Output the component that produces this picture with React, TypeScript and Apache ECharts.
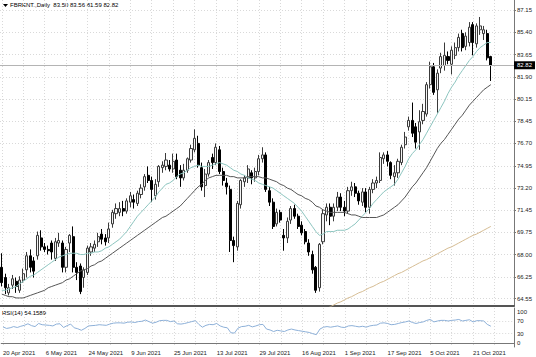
import React, { useEffect, useRef } from 'react';
import * as echarts from 'echarts';

const symbolName = 'FBRENT.';
const periodName = 'Daily';
const rsiName = 'RSI(14)';

const monthNames = ['Jan', 'Feb', 'Mar', 'Apr', 'May', 'Jun', 'Jul', 'Aug', 'Sep', 'Oct', 'Nov', 'Dec'];
const firstDay: [number, number, number] = [2021, 4, 20];
const slotCount = 144; // 138 bars + empty chart shift on the right

function tradingDays(start: [number, number, number], n: number): string[] {
  const out: string[] = [];
  const d = new Date(Date.UTC(start[0], start[1] - 1, start[2]));
  while (out.length < n) {
    const wd = d.getUTCDay();
    if (wd !== 0 && wd !== 6) out.push(`${d.getUTCDate()} ${monthNames[d.getUTCMonth()]} ${d.getUTCFullYear()}`);
    d.setUTCDate(d.getUTCDate() + 1);
  }
  return out;
}
const categories = tradingDays(firstDay, slotCount);

const opens = [
  67.0, 66.2, 65.0, 65.6, 65.9, 65.2, 66.0, 66.8, 67.9, 67.5,
  67.9, 69.3, 68.6, 68.4, 68.9, 67.7, 68.9, 68.9, 67.0, 68.9,
  69.4, 67.0, 67.1, 66.2, 66.6, 68.2, 68.5, 69.0, 69.6, 69.3,
  69.3, 70.4, 71.2, 71.3, 71.6, 71.4, 72.1, 72.3, 72.0, 72.7,
  73.3, 74.2, 73.8, 72.6, 73.7, 74.8, 74.9, 75.0, 74.7, 75.4,
  74.6, 74.0, 74.6, 75.4, 76.2, 76.7, 74.8, 73.4, 74.3, 75.6,
  75.2, 76.2, 74.5, 73.6, 73.1, 69.1, 68.6, 71.9, 73.7, 74.0,
  74.4, 74.0, 74.5, 75.5, 75.8, 73.0, 72.1, 70.4, 71.3, 69.5,
  69.3, 70.7, 71.6, 71.0, 70.3, 69.8, 68.9, 68.0, 67.0, 65.4,
  69.0, 71.1, 71.7, 71.0, 71.7, 72.5, 71.7, 71.4, 73.0, 73.3,
  72.8, 72.1, 72.9, 71.7, 73.1, 73.6, 73.8, 75.5, 75.8, 75.2,
  74.1, 74.4, 75.2, 76.6, 78.0, 78.5, 78.0, 77.6, 78.5, 79.0,
  81.3, 82.7, 80.9, 82.6, 82.8, 83.5, 82.9, 83.6, 84.2, 85.3,
  84.3, 84.6, 86.0, 84.5, 85.6, 85.3, 85.3, 83.50,
];
const highs = [
  68.1, 66.5, 65.7, 66.4, 66.2, 66.3, 66.9, 68.2, 68.4, 67.8,
  69.8, 69.9, 68.9, 68.7, 69.1, 69.3, 69.7, 69.1, 68.6, 69.6,
  70.2, 67.4, 67.3, 67.0, 68.7, 68.9, 69.1, 69.7, 70.0, 69.6,
  70.5, 71.5, 72.0, 72.1, 72.2, 72.4, 72.9, 72.7, 73.0, 73.5,
  74.3, 74.9, 74.1, 73.9, 75.0, 75.3, 75.95, 75.4, 75.9, 75.9,
  75.0, 75.1, 75.6, 76.6, 77.8, 77.3, 75.2, 74.7, 75.4, 75.9,
  76.7, 76.5, 74.8, 74.0, 73.4, 69.4, 72.2, 73.9, 74.2, 75.0,
  74.6, 74.8, 75.8, 76.4, 76.0, 73.3, 72.4, 71.6, 71.5, 70.0,
  70.9, 71.8, 71.9, 71.2, 70.6, 70.0, 69.2, 68.3, 67.1, 68.9,
  71.5, 72.0, 72.0, 72.0, 72.9, 72.8, 72.2, 73.3, 73.7, 73.6,
  73.0, 73.2, 73.2, 73.3, 73.9, 74.1, 76.0, 76.0, 76.1, 75.3,
  75.0, 75.5, 76.6, 77.6, 78.8, 79.9, 78.3, 79.3, 79.8, 81.5,
  83.1, 83.0, 82.5, 83.8, 84.6, 83.9, 84.3, 84.6, 85.3, 85.6,
  85.4, 86.2, 86.2, 86.1, 86.6, 85.9, 85.6, 83.56,
];
const lows = [
  65.5, 64.9, 64.8, 65.3, 65.0, 65.0, 65.8, 66.2, 66.6, 66.2,
  67.6, 68.3, 68.2, 68.0, 67.6, 67.5, 68.6, 66.6, 66.6, 68.2,
  66.6, 66.0, 64.9, 65.4, 66.4, 67.9, 68.2, 68.6, 68.8, 68.7,
  68.9, 70.1, 70.8, 71.0, 71.0, 71.2, 71.7, 71.6, 71.8, 72.4,
  73.0, 73.6, 72.1, 72.3, 73.3, 74.4, 74.6, 74.5, 74.4, 73.9,
  73.3, 73.8, 74.4, 75.2, 76.0, 74.8, 73.0, 72.5, 74.1, 74.7,
  75.0, 74.3, 73.4, 72.7, 68.2, 67.4, 68.3, 71.6, 73.3, 73.6,
  73.5, 73.7, 74.2, 75.2, 72.9, 71.8, 70.0, 70.2, 70.5, 68.3,
  68.9, 70.4, 70.8, 70.0, 69.5, 68.8, 67.9, 66.5, 65.0, 65.1,
  68.8, 70.6, 70.3, 70.6, 71.4, 71.4, 71.0, 71.2, 72.6, 72.5,
  71.9, 71.8, 71.3, 71.2, 72.8, 73.2, 73.6, 75.1, 74.9, 73.9,
  73.4, 74.0, 75.0, 76.3, 77.7, 77.2, 76.3, 76.2, 78.2, 78.8,
  81.0, 80.5, 79.1, 82.2, 82.4, 82.9, 82.1, 83.3, 83.9, 83.9,
  84.0, 84.3, 83.6, 84.2, 85.2, 84.8, 83.2, 81.59,
];
const closes = [
  65.8, 65.4, 65.4, 66.1, 65.5, 66.0, 66.5, 67.9, 67.0, 66.7,
  69.5, 68.6, 68.4, 68.3, 68.2, 69.0, 69.1, 67.0, 68.4, 69.5,
  67.0, 66.6, 65.1, 66.8, 68.5, 68.6, 68.8, 69.4, 69.2, 69.0,
  70.0, 71.3, 71.6, 71.6, 71.4, 72.2, 72.6, 72.1, 72.8, 73.2,
  74.1, 73.8, 73.1, 73.5, 74.9, 75.0, 75.4, 74.7, 75.3, 74.1,
  74.0, 74.6, 75.5, 76.3, 77.1, 75.0, 73.3, 74.3, 75.2, 75.2,
  76.4, 74.5, 73.8, 73.3, 69.1, 68.7, 72.0, 73.8, 74.0, 74.7,
  74.0, 74.5, 75.5, 75.8, 73.1, 72.1, 70.2, 71.3, 70.7, 69.3,
  70.6, 71.6, 71.0, 70.2, 69.7, 69.0, 68.2, 66.8, 65.2, 68.8,
  71.2, 71.7, 71.0, 71.7, 72.5, 71.7, 71.4, 73.0, 73.3, 72.8,
  72.2, 72.9, 71.7, 73.1, 73.6, 73.8, 75.6, 75.8, 75.3, 74.2,
  74.4, 75.3, 76.4, 77.2, 78.5, 77.5, 76.8, 78.4, 79.2, 81.3,
  82.7, 80.7, 82.2, 83.5, 83.6, 83.2, 84.0, 84.2, 85.0, 84.2,
  85.1, 85.8, 84.6, 85.9, 85.9, 85.6, 83.4, 82.82,
];
const maFast = [
  65.2, 65.2, 65.3, 65.4, 65.5, 65.7, 65.9, 66.1, 66.3, 66.4,
  66.6, 66.8, 67.0, 67.2, 67.4, 67.6, 67.8, 67.9, 68.0, 68.1,
  68.1, 68.1, 68.0, 68.0, 68.1, 68.1, 68.2, 68.2, 68.3, 68.5,
  68.6, 68.8, 69.0, 69.2, 69.5, 69.8, 70.2, 70.6, 71.0, 71.3,
  71.6, 71.9, 72.2, 72.5, 72.9, 73.2, 73.5, 73.6, 73.8, 74.1,
  74.3, 74.4, 74.6, 74.8, 74.9, 75.0, 74.9, 74.9, 74.9, 75.0,
  75.1, 75.2, 75.1, 75.0, 74.8, 74.6, 74.5, 74.3, 74.2, 74.0,
  73.9, 73.8, 73.6, 73.5, 73.4, 73.3, 73.2, 73.0, 72.8, 72.6,
  72.4, 72.2, 72.0, 71.7, 71.4, 71.0, 70.6, 70.2, 69.8, 69.5,
  69.6, 69.8, 69.8, 69.8, 69.9, 69.9, 69.9, 70.0, 70.2, 70.4,
  70.7, 71.0, 71.3, 71.6, 72.0, 72.3, 72.6, 72.9, 73.1, 73.3,
  73.5, 73.9, 74.4, 74.9, 75.5, 75.9, 76.2, 76.6, 77.0, 77.5,
  78.0, 78.5, 79.0, 79.5, 80.0, 80.6, 81.1, 81.5, 82.0, 82.4,
  82.8, 83.2, 83.5, 83.9, 84.2, 84.4, 84.6, 84.6,
];
const maSlow = [
  64.9, 64.8, 64.7, 64.7, 64.6, 64.6, 64.6, 64.7, 64.8, 64.9,
  65.0, 65.1, 65.2, 65.4, 65.5, 65.6, 65.7, 65.8, 66.0, 66.1,
  66.3, 66.5, 66.7, 66.8, 66.9, 67.1, 67.2, 67.4, 67.5, 67.7,
  67.9, 68.1, 68.3, 68.5, 68.7, 68.9, 69.1, 69.3, 69.5, 69.7,
  69.9, 70.1, 70.3, 70.5, 70.7, 70.9, 71.0, 71.2, 71.4, 71.6,
  71.8, 72.1, 72.4, 72.7, 73.0, 73.3, 73.5, 73.8, 74.0, 74.1,
  74.2, 74.2, 74.2, 74.2, 74.1, 74.1, 74.0, 74.0, 74.0, 74.1,
  74.1, 74.1, 74.1, 74.0, 74.0, 73.9, 73.8, 73.7, 73.5, 73.4,
  73.2, 73.1, 72.9, 72.7, 72.6, 72.4, 72.3, 72.1, 71.8, 71.7,
  71.5, 71.4, 71.3, 71.3, 71.3, 71.3, 71.3, 71.2, 71.1, 71.1,
  71.0, 70.9, 70.9, 70.9, 70.9, 70.9, 71.0, 71.1, 71.3, 71.5,
  71.7, 71.9, 72.2, 72.5, 72.9, 73.3, 73.6, 74.0, 74.4, 74.8,
  75.3, 75.8, 76.3, 76.7, 77.0, 77.4, 77.8, 78.2, 78.6, 78.9,
  79.3, 79.7, 80.0, 80.3, 80.6, 80.9, 81.1, 81.3,
];
const maLong: (number | null)[] = [
  null, null, null, null, null, null, null, null, null, null,
  null, null, null, null, null, null, null, null, null, null,
  null, null, null, null, null, null, null, null, null, null,
  null, null, null, null, null, null, null, null, null, null,
  null, null, null, null, null, null, null, null, null, null,
  null, null, null, null, null, null, null, null, null, null,
  null, null, null, null, null, null, null, null, null, null,
  null, null, null, null, null, null, null, null, null, null,
  null, null, null, null, null, null, null, null, 63.4, 63.5,
  63.65, 63.8, 63.9, 64.05, 64.2, 64.3, 64.45, 64.6, 64.7, 64.85,
  65.0, 65.1, 65.25, 65.4, 65.5, 65.65, 65.8, 65.9, 66.05, 66.2,
  66.35, 66.5, 66.6, 66.75, 66.9, 67.05, 67.2, 67.35, 67.5, 67.6,
  67.75, 67.9, 68.05, 68.2, 68.35, 68.5, 68.6, 68.75, 68.9, 69.05,
  69.2, 69.35, 69.5, 69.6, 69.75, 69.9, 70.05, 70.2,
];
const rsiValues = [
  52, 47, 49, 53, 50, 54, 57, 62, 56, 53,
  63, 59, 58, 57, 55, 61, 62, 50, 56, 61,
  49, 46, 41, 47, 55, 56, 57, 59, 58, 57,
  61, 64, 65, 65, 64, 67, 68, 66, 69, 70,
  74, 69, 64, 67, 72, 73, 73, 69, 71, 62,
  61, 63, 66, 69, 72, 60, 51, 57, 60, 59,
  63, 55, 51, 49, 33, 32, 48, 53, 54, 57,
  52, 55, 59, 60, 45, 42, 37, 41, 39, 37,
  42, 45, 42, 40, 38, 36, 34, 30, 27, 45,
  51, 53, 51, 53, 55, 51, 50, 55, 56, 54,
  52, 54, 51, 55, 57, 58, 64, 65, 63, 59,
  60, 63, 66, 68, 71, 66, 63, 66, 68, 73,
  76, 68, 71, 73, 73, 71, 73, 74, 76, 71,
  73, 75, 68, 72, 72, 71, 60, 54.1589,
];

const priceTicks = [64.55, 66.25, 68.0, 69.75, 71.45, 73.2, 74.95, 76.7, 78.45, 80.15, 81.9, 83.65, 85.4, 87.15];
const rsiLabelTicks = [0, 30, 70, 100];
const rsiLevels = [30, 70];

const FONT = 'Tahoma, "Liberation Sans", Arial, sans-serif';
const gridLine = { color: '#d9d9d9', type: [1, 2] as number[], width: 1 };

export default function App() {
  const ref = useRef<HTMLDivElement>(null);
  useEffect(() => {
    if (!ref.current) return;
    const chart = echarts.init(ref.current, null, { renderer: 'svg' });
    const last = closes.length - 1;
    const candleData = opens.map((o, i) => [o, closes[i], lows[i], highs[i]]);
    const header = `${symbolName},${periodName}  ${opens[last].toFixed(2)} ${highs[last].toFixed(2)} ${lows[last].toFixed(2)} ${closes[last].toFixed(2)}`;
    const rsiHeader = `${rsiName} ${rsiValues[last].toFixed(4)}`;
    chart.setOption({
      animation: false,
      backgroundColor: '#ffffff',
      textStyle: { fontFamily: FONT },
      grid: [
        { left: 0, right: 22, top: 0, height: 306 },
        { left: 0, right: 22, top: 308, height: 39 },
      ],
      xAxis: [
        {
          type: 'category', gridIndex: 0, data: categories, boundaryGap: true,
          axisLine: { show: true, lineStyle: { color: '#555555', width: 2 } },
          axisTick: { show: false }, axisLabel: { show: false },
          splitLine: { show: true, interval: 5, alignWithLabel: true, lineStyle: gridLine },
        },
        {
          type: 'category', gridIndex: 1, data: categories, boundaryGap: true,
          axisLine: { show: true, lineStyle: { color: '#777777', width: 1 } },
          axisTick: { show: false },
          axisLabel: { interval: 11, align: 'left', fontSize: 6, color: '#222222', margin: 3, fontFamily: FONT },
          splitLine: { show: true, interval: 5, alignWithLabel: true, lineStyle: gridLine },
        },
      ],
      yAxis: [
        {
          type: 'value', gridIndex: 0, position: 'right', min: 63.97, max: 87.93, scale: true,
          axisLine: { show: true, lineStyle: { color: '#777777' } },
          axisTick: { show: true, length: 2, customValues: priceTicks, lineStyle: { color: '#777777' } },
          axisLabel: { customValues: priceTicks, formatter: (v: number) => v.toFixed(2), fontSize: 6, color: '#222222', margin: 3, fontFamily: FONT },
          splitLine: { show: true, lineStyle: gridLine },
        },
        {
          type: 'value', gridIndex: 1, position: 'right', min: -12.9, max: 112.9,
          axisLine: { show: true, lineStyle: { color: '#777777' } },
          axisTick: { show: false, customValues: rsiLevels },
          axisLabel: { customValues: rsiLabelTicks, fontSize: 6, color: '#222222', margin: 3, fontFamily: FONT },
          splitLine: { show: true, lineStyle: gridLine },
        },
      ],
      series: [
        {
          type: 'candlestick', name: symbolName, xAxisIndex: 0, yAxisIndex: 0, data: candleData, barWidth: '72%',
          itemStyle: { color: '#f4f4f4', color0: '#000000', borderColor: '#3a3a3a', borderColor0: '#000000', borderWidth: 1 },
          markLine: {
            silent: true, symbol: 'none', animation: false,
            data: [{ yAxis: closes[last] }],
            lineStyle: { color: '#b4b4b4', type: 'solid', width: 1 },
            label: {
              position: 'end', distance: 0, formatter: closes[last].toFixed(2), fontSize: 6, color: '#ffffff',
              backgroundColor: '#000000', padding: [1, 3, 1, 3], fontFamily: FONT,
            },
          },
        },
        { type: 'line', name: 'MA fast', xAxisIndex: 0, yAxisIndex: 0, data: maFast, showSymbol: false, lineStyle: { color: '#8cc5bf', width: 1 } },
        { type: 'line', name: 'MA slow', xAxisIndex: 0, yAxisIndex: 0, data: maSlow, showSymbol: false, lineStyle: { color: '#555555', width: 1 } },
        { type: 'line', name: 'MA long', xAxisIndex: 0, yAxisIndex: 0, data: maLong, showSymbol: false, connectNulls: false, lineStyle: { color: '#d6bd94', width: 1 } },
        { type: 'line', name: rsiName, xAxisIndex: 1, yAxisIndex: 1, data: rsiValues, showSymbol: false, lineStyle: { color: '#8db0d8', width: 1 } },
      ],
      graphic: [
        { type: 'polygon', shape: { points: [[3, 4], [8, 4], [5.5, 7]] }, style: { fill: '#000000' } },
        { type: 'text', left: 10, top: 2, style: { text: header, fontSize: 6, fill: '#000000', fontFamily: FONT } },
        { type: 'text', left: 2, top: 310, style: { text: rsiHeader, fontSize: 6, fill: '#000000', fontFamily: FONT } },
      ],
    });
    return () => chart.dispose();
  }, []);
  return <div ref={ref} style={{ position: 'absolute', left: 0, top: 0, width: 536, height: 357, background: '#fff' }} />;
}
